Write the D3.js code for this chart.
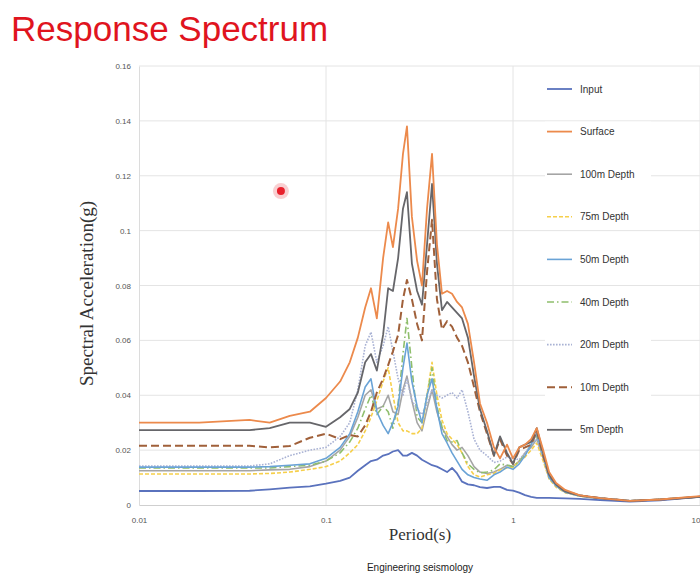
<!DOCTYPE html>
<html lang="en">
  <head>
  <meta charset="utf-8" />
  <title>Response Spectrum</title>
  <style>
    body { margin: 0; background: #fff; }
    svg { display: block; }
  </style>
  </head>
  <body>
    <div id="chart"></div>

    <script src="https://cdnjs.cloudflare.com/ajax/libs/d3/7.8.5/d3.min.js"></script>
    <script type="text/javascript">
      "use strict";

      // periods (s) shared by all series
      let periods = [0.01, 0.021, 0.039, 0.050, 0.064, 0.082, 0.100, 0.119, 0.134, 0.148,
        0.162, 0.174, 0.187, 0.202, 0.215, 0.228, 0.243, 0.258, 0.271, 0.288,
        0.307, 0.326, 0.347, 0.369, 0.392, 0.417, 0.444, 0.472, 0.502, 0.534,
        0.574, 0.619, 0.666, 0.726, 0.791, 0.852, 0.929, 1.00, 1.08, 1.16,
        1.25, 1.34, 1.45, 1.56, 1.70, 1.90, 2.28, 2.92, 4.22, 6.11, 10]

      let seriesNames = ["Input", "Surface", "100m Depth", "75m Depth", "50m Depth",
        "40m Depth", "20m Depth", "10m Depth", "5m Depth"]

      let input = [.0051, .0051, .0052, .0057, .0063, .0068, .0078, .0088, .010, .0125,
        .0145, .016, .0165, .018, .0185, .0195, .020, .018, .018, .019,
        .018, .0165, .0155, .0145, .014, .013, .012, .0135, .0115, .0085,
        .0075, .0072, .0065, .0062, .0066, .0066, .0055, .0052, .0045, .0036,
        .003, .0026, .0026, .0026, .0025, .0024, .0022, .0018, .0012, .0017, .003]

      let surface = [.030, .030, .031, .030, .0325, .034, .039, .045, .052, .061,
        .072, .079, .068, .090, .103, .094, .108, .128, .138, .105,
        .089, .080, .108, .128, .095, .077, .078, .077, .074, .072,
        .066, .052, .037, .030, .021, .017, .022, .017, .021, .022,
        .024, .028, .020, .012, .008, .0055, .0035, .0025, .0015, .002, .0032]

      let depth100 = [.0125, .0125, .0125, .0128, .013, .014, .016, .020, .025, .032,
        .040, .042, .035, .036, .040, .034, .033, .042, .047, .038,
        .030, .027, .035, .042, .034, .028, .025, .022, .020, .021,
        .018, .014, .012, .0115, .012, .013, .0145, .014, .016, .019,
        .021, .024, .017, .010, .007, .0047, .0033, .0024, .0015, .002, .003]

      let depth75 = [.0113, .0113, .0113, .0115, .012, .013, .014, .016, .019, .022,
        .027, .032, .038, .045, .050, .040, .030, .027, .027, .026,
        .026, .028, .040, .052, .040, .031, .026, .024, .022, .019,
        .014, .011, .0102, .011, .0115, .0128, .0135, .0138, .016, .0175,
        .020, .0226, .016, .0095, .0065, .0045, .0032, .0023, .0015, .002, .003]

      let depth50 = [.0138, .0138, .0138, .014, .0145, .015, .017, .021, .026, .034,
        .043, .046, .034, .029, .026, .030, .036, .050, .059, .045,
        .036, .030, .040, .046, .035, .026, .0226, .019, .016, .013,
        .011, .010, .0095, .009, .011, .012, .0138, .013, .015, .018,
        .022, .026, .018, .010, .007, .0047, .0033, .0024, .0015, .002, .003]

      let depth40 = [.0135, .0135, .0135, .0135, .014, .0145, .016, .019, .023, .028,
        .035, .040, .033, .036, .034, .028, .037, .055, .068, .050,
        .032, .030, .040, .050, .036, .0285, .0235, .023, .0235, .019,
        .015, .013, .0117, .012, .0128, .015, .0145, .014, .016, .0185,
        .022, .025, .018, .010, .007, .0047, .0033, .0024, .0015, .002, .003]

      let depth20 = [.0142, .0142, .0142, .015, .018, .020, .021, .025, .030, .042,
        .058, .063, .052, .058, .065, .056, .046, .040, .046, .038,
        .035, .033, .037, .042, .040, .039, .040, .041, .039, .042,
        .034, .024, .020, .018, .0155, .016, .0175, .017, .0165, .019,
        .022, .024, .017, .010, .007, .0048, .0033, .0024, .0015, .002, .003]

      let depth10 = [.0216, .0216, .0216, .021, .0215, .0245, .026, .024, .0255, .025,
        .029, .034, .041, .046, .051, .056, .062, .075, .082, .075,
        .066, .060, .085, .104, .075, .064, .067, .065, .061, .058,
        .052, .043, .034, .026, .018, .024, .018, .015, .020, .021,
        .022, .027, .018, .011, .0075, .005, .0035, .0025, .0015, .002, .003]

      let depth5 = [.0273, .0273, .0273, .028, .030, .030, .0285, .032, .035, .041,
        .052, .055, .049, .062, .079, .078, .090, .108, .114, .088,
        .078, .073, .095, .117, .088, .071, .074, .072, .070, .068,
        .061, .047, .035, .027, .018, .025, .019, .015, .021, .022,
        .023, .028, .019, .011, .0075, .005, .0035, .0025, .0015, .002, .003]

      let seriesValues = [input, surface, depth100, depth75, depth50, depth40, depth20, depth10, depth5]

      let yTicks = [0, 0.02, 0.04, 0.06, 0.08, 0.1, 0.12, 0.14, 0.16]
      let xTicks = [0.01, 0.1, 1, 10]

      // laser pointer spot seen on the slide
      let pointer = {period: 0.0574, sa: 0.1144}

      let width = 700
      let height = 575
      let margin = ({top: 66, right: 0, bottom: 70, left: 139})

      let styles = [
        {color: "#5a72bd", dash: null, w: 1.8},
        {color: "#ec8a4c", dash: null, w: 1.8},
        {color: "#a5a5a5", dash: null, w: 1.6},
        {color: "#f6cf4a", dash: "4,2", w: 1.6},
        {color: "#6aa3d6", dash: null, w: 1.6},
        {color: "#8fbe6c", dash: "7,3,1.5,3", w: 1.6},
        {color: "#a9b2d4", dash: "1.6,1.4", w: 1.6},
        {color: "#a0603a", dash: "8,4", w: 2.0},
        {color: "#66666a", dash: null, w: 1.8}
      ]

      let svg = d3.select("#chart").append("svg")
        .attr("width", width)
        .attr("height", height)
        .style("font-family", "Liberation Sans, Arial, sans-serif")

      svg.append("rect").attr("width", width).attr("height", height).attr("fill", "#fff")

      svg.append("text")
        .attr("x", 11)
        .attr("y", 41)
        .attr("fill", "#e0141e")
        .style("font-size", "35px")
        .text("Response Spectrum")

      let x = d3.scaleLog()
        .domain([0.01, 10])
        .range([margin.left, width - margin.right])

      let y = d3.scaleLinear()
        .domain([0, 0.16])
        .range([height - margin.bottom, margin.top])

      // gridlines
      svg.append("g")
        .selectAll("line")
        .data(yTicks.slice(1))
        .join("line")
          .attr("x1", margin.left).attr("x2", width)
          .attr("y1", d => y(d)).attr("y2", d => y(d))
          .attr("stroke", "#e4e4e4")
          .attr("stroke-width", 1)

      svg.append("g")
        .selectAll("line")
        .data(xTicks.slice(1))
        .join("line")
          .attr("x1", d => x(d)).attr("x2", d => x(d))
          .attr("y1", margin.top).attr("y2", height - margin.bottom)
          .attr("stroke", "#e4e4e4")
          .attr("stroke-width", 1)

      let xAxis = g => g
        .attr("transform", `translate(0,${height - margin.bottom})`)
        .call(d3.axisBottom(x).tickValues(xTicks).tickFormat(d3.format("~g")).tickSize(0).tickPadding(12))
        .call(g => g.select(".domain").attr("stroke", "#cfcfcf"))
        .call(g => g.selectAll("text").attr("fill", "#555").style("font-size", "8px"))
        // last label sits on the right edge, keep it inside
        .call(g => g.selectAll(".tick").filter(d => d == 10).select("text").attr("text-anchor", "end"))

      let yAxis = g => g
        .attr("transform", `translate(${margin.left},0)`)
        .call(d3.axisLeft(y).tickValues(yTicks).tickFormat(d3.format("~g")).tickSize(0).tickPadding(8))
        .call(g => g.select(".domain").attr("stroke", "#dcdcdc"))
        .call(g => g.selectAll("text").attr("fill", "#555").style("font-size", "8px"))

      svg.append("g").call(xAxis)
      svg.append("g").call(yAxis)

      // axis titles
      svg.append("text")
        .attr("x", 420)
        .attr("y", 540)
        .attr("text-anchor", "middle")
        .attr("fill", "#333")
        .style("font-family", "Liberation Serif, Times New Roman, serif")
        .style("font-size", "17px")
        .text("Period(s)")

      svg.append("text")
        .attr("transform", `translate(93,${(margin.top + height - margin.bottom) / 2 + 8}) rotate(-90)`)
        .attr("text-anchor", "middle")
        .attr("fill", "#333")
        .style("font-family", "Liberation Serif, Times New Roman, serif")
        .style("font-size", "19px")
        .text("Spectral Acceleration(g)")

      // curves
      let line = d3.line()
        .x(d => x(d[0]))
        .y(d => y(d[1]))

      let plot = svg.append("g")
      // paint order: lighter series under the heavy ones
      let order = [2, 3, 5, 6, 4, 0, 7, 8, 1]
      order.forEach(i => {
        let pts = periods.map((p, k) => [p, seriesValues[i][k]])
        plot.append("path")
          .datum(pts)
          .attr("fill", "none")
          .attr("stroke", styles[i].color)
          .attr("stroke-width", styles[i].w)
          .attr("stroke-dasharray", styles[i].dash)
          .attr("stroke-linejoin", "round")
          .attr("d", line)
      })

      // legend
      let legend = svg.append("g")
      seriesNames.forEach((name, i) => {
        let ly = 89 + i * 42.6
        let item = legend.append("g").attr("transform", `translate(547,${ly})`)
        item.append("rect")
          .attr("x", i == 8 ? 1 : -2).attr("y", -10).attr("width", 106).attr("height", 20)
          .attr("fill", "#fff")
        item.append("line")
          .attr("x1", 0).attr("x2", 25)
          .attr("stroke", styles[i].color)
          .attr("stroke-width", styles[i].w)
          .attr("stroke-dasharray", styles[i].dash)
        item.append("text")
          .attr("x", 33)
          .attr("dy", "0.35em")
          .attr("fill", "#333")
          .style("font-size", "10px")
          .text(name)
      })

      // laser pointer spot
      let spot = svg.append("g")
        .attr("transform", `translate(${x(pointer.period)},${y(pointer.sa)})`)
      spot.append("circle").attr("r", 8).attr("fill", "#f4a0a4").attr("opacity", 0.5)
      spot.append("circle").attr("r", 4).attr("fill", "#e8202c")

      svg.append("text")
        .attr("x", 420)
        .attr("y", 571)
        .attr("text-anchor", "middle")
        .attr("fill", "#222")
        .style("font-size", "10px")
        .text("Engineering seismology")
    </script>
  </body>
</html>
